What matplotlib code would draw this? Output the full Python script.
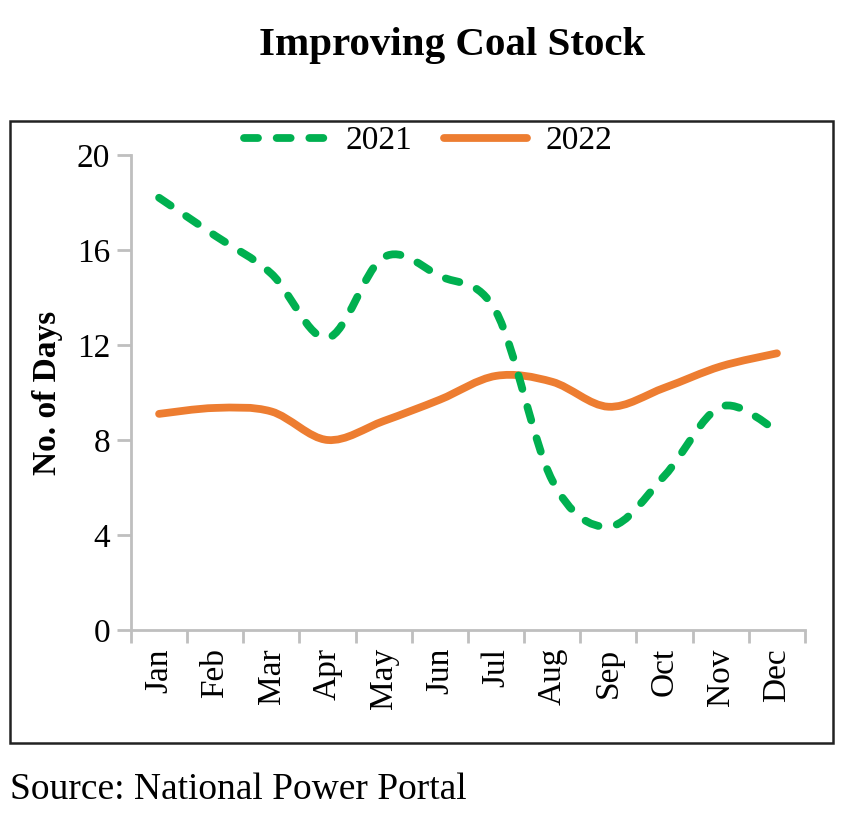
import matplotlib
matplotlib.use("Agg")
import matplotlib.pyplot as plt
import numpy as np
from matplotlib.path import Path
from matplotlib.patches import PathPatch, Rectangle
from matplotlib.lines import Line2D
from matplotlib.ticker import FixedLocator

months = ["Jan", "Feb", "Mar", "Apr", "May", "Jun", "Jul", "Aug", "Sep", "Oct", "Nov", "Dec"]
stock_2021 = [18.2, 16.6, 15.0, 12.3, 15.7, 14.9, 13.4, 6.3, 4.35, 6.5, 9.4, 8.4]
stock_2022 = [9.1, 9.35, 9.2, 8.0, 8.8, 9.7, 10.7, 10.45, 9.4, 10.2, 11.1, 11.65]
y_ticks = [0, 4, 8, 12, 16, 20]

GREEN = "#00B050"
ORANGE = "#ED7D31"
GRAY = "#BFBFBF"
SERIF = ["Liberation Serif", "DejaVu Serif"]
plt.rcParams["font.family"] = SERIF

LW21 = 5.6
LW22 = 5.6
DASH = (0, (1.8, 2.4))


def smooth_path(xs, ys):
    pts = np.column_stack([xs, ys]).astype(float)
    n = len(pts)
    verts = [pts[0]]
    codes = [Path.MOVETO]
    for i in range(n - 1):
        p0 = pts[max(i - 1, 0)]
        p1 = pts[i]
        p2 = pts[i + 1]
        p3 = pts[min(i + 2, n - 1)]
        c1 = p1 + (p2 - p0) / 6.0
        c2 = p2 - (p3 - p1) / 6.0
        verts += [c1, c2, p2]
        codes += [Path.CURVE4] * 3
    return Path(verts, codes)


fig = plt.figure(figsize=(8.62, 8.23), dpi=100)
ax = fig.add_axes([131 / 862, 1 - 630 / 823, (805 - 131) / 862, (630 - 155) / 823])

x = np.arange(len(months))
p21 = PathPatch(smooth_path(x, stock_2021), fill=False, edgecolor=GREEN, linewidth=LW21,
                linestyle=DASH, capstyle="round", joinstyle="round", zorder=3)
p22 = PathPatch(smooth_path(x, stock_2022), fill=False, edgecolor=ORANGE, linewidth=LW22,
                capstyle="round", joinstyle="round", zorder=2)
ax.add_patch(p22)
ax.add_patch(p21)

ax.set_xlim(-0.5, len(months) - 0.5)
ax.set_ylim(0, 20)
ax.set_yticks(y_ticks)
ax.set_yticklabels([str(v) for v in y_ticks], fontsize=24)
ax.set_xticks(x)
ax.set_xticklabels(months, rotation=90, fontsize=24)
ax.xaxis.set_minor_locator(FixedLocator(np.arange(-0.5, len(months), 1.0)))
ax.tick_params(axis="x", which="major", length=0, pad=13)
ax.tick_params(axis="x", which="minor", length=9, width=2, color=GRAY, direction="out")
ax.tick_params(axis="y", which="major", length=10, width=2, color=GRAY, pad=5)

for s in ["top", "right"]:
    ax.spines[s].set_visible(False)
for s in ["left", "bottom"]:
    ax.spines[s].set_color(GRAY)
    ax.spines[s].set_linewidth(2)

ax.set_ylabel("No. of Days", fontsize=24, fontweight="bold", labelpad=10)

handles = [
    Line2D([], [], color=GREEN, linewidth=LW21, linestyle=DASH, dash_capstyle="round"),
    Line2D([], [], color=ORANGE, linewidth=LW22, solid_capstyle="round"),
]
leg = fig.legend(handles, ["2021", "2022"], loc="center", bbox_to_anchor=(428 / 862, 1 - 141 / 823),
                 ncol=2, frameon=False, fontsize=24, handlelength=2.5, columnspacing=0.95,
                 handletextpad=0.55)

fig.add_artist(Rectangle((10 / 862, 1 - 743 / 823), 823 / 862, 622 / 823, transform=fig.transFigure,
                         fill=False, edgecolor="#222222", linewidth=1.8))

fig.text(452 / 862, 1 - 45 / 823, "Improving Coal Stock", ha="center", va="center",
         fontsize=29.5, fontweight="bold")
fig.text(10 / 862, 1 - 790 / 823, "Source: National Power Portal", ha="left", va="center",
         fontsize=27)

fig.savefig("out.png", dpi=100)
